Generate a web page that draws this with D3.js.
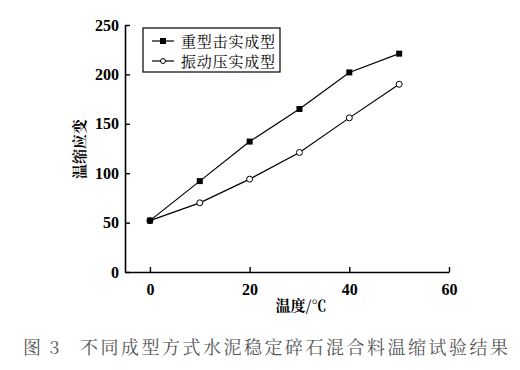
<!DOCTYPE html>
<html>
<head>
<meta charset="utf-8">
<script src="https://cdn.jsdelivr.net/npm/d3@7"></script>
<style>
body{margin:0;background:#fff;}
</style>
</head>
<body>
<svg id="chart" width="520" height="370"></svg>
<script>
// data
const temps = [0, 10, 20, 30, 40, 50];
const heavy = [52, 92, 132, 165, 202, 221];   // 重型击实成型
const vibro = [52, 70, 94, 121, 156, 190];    // 振动压实成型
const seriesNames = ["重型击实成型", "振动压实成型"];
const xTicks = [0, 20, 40, 60];
const yTicks = [0, 50, 100, 150, 200, 250];

const svg = d3.select('#chart');
const numFont = '"Liberation Serif","Times New Roman",serif';
const cjkFont = '"Noto Serif CJK SC","Noto Sans CJK SC",serif';

const plotLeft = 125, plotRight = 449, plotTop = 25, plotBottom = 272;

const x = d3.scaleLinear().domain([-5, 60]).range([plotLeft, plotRight]);
const y = d3.scaleLinear().domain([0, 250]).range([plotBottom, plotTop]);

// axes, ticks pointing inward
const xAxis = svg.append('g')
    .attr('transform', `translate(0,${plotBottom})`)
    .call(d3.axisBottom(x).tickValues(xTicks).tickSizeInner(-5).tickSizeOuter(0).tickPadding(12));
const yAxis = svg.append('g')
    .attr('transform', `translate(${plotLeft},0)`)
    .call(d3.axisLeft(y).tickValues(yTicks).tickSizeInner(-5).tickSizeOuter(0).tickPadding(6));

[xAxis, yAxis].forEach(g => {
  g.select('.domain').attr('stroke', '#000').attr('stroke-width', 1.6);
  g.selectAll('.tick line').attr('stroke', '#000').attr('stroke-width', 1.4);
  g.selectAll('.tick text')
    .attr('fill', '#000')
    .style('font-family', numFont)
    .style('font-weight', 'bold')
    .style('font-size', '16px');
});

const line = d3.line().x((d, i) => x(temps[i])).y(d => y(d));

function drawSeries(vals, filled) {
  svg.append('path')
    .datum(vals)
    .attr('d', line)
    .attr('fill', 'none')
    .attr('stroke', '#000')
    .attr('stroke-width', 1.2);
  if (filled) {
    svg.selectAll(null).data(vals).enter().append('rect')
      .attr('x', (d, i) => x(temps[i]) - 3)
      .attr('y', d => y(d) - 3)
      .attr('width', 6).attr('height', 6)
      .attr('fill', '#000');
  } else {
    svg.selectAll(null).data(vals).enter().append('circle')
      .attr('cx', (d, i) => x(temps[i]))
      .attr('cy', d => y(d))
      .attr('r', 3)
      .attr('fill', '#fff')
      .attr('stroke', '#000')
      .attr('stroke-width', 1);
  }
}
drawSeries(vibro, false);
drawSeries(heavy, true);

// legend
const lg = svg.append('g').attr('transform', 'translate(143,28)');
lg.append('rect').attr('width', 137).attr('height', 44)
  .attr('fill', '#fff').attr('stroke', '#000').attr('stroke-width', 1.2);
seriesNames.forEach((name, i) => {
  const yy = 13 + i * 20;
  lg.append('line').attr('x1', 9).attr('x2', 31).attr('y1', yy).attr('y2', yy)
    .attr('stroke', '#000').attr('stroke-width', 1.2);
  if (i === 0) {
    lg.append('rect').attr('x', 17).attr('y', yy - 3).attr('width', 6).attr('height', 6).attr('fill', '#000');
  } else {
    lg.append('circle').attr('cx', 20).attr('cy', yy).attr('r', 2.5)
      .attr('fill', '#fff').attr('stroke', '#000');
  }
  lg.append('text').attr('x', 38).attr('y', yy + 5.5)
    .attr('textLength', 94)
    .style('font-family', cjkFont).style('font-size', '15px')
    .text(name);
});

// axis titles
svg.append('text')
  .attr('transform', 'translate(85,149) rotate(-90)')
  .attr('text-anchor', 'middle')
  .style('font-family', cjkFont).style('font-size', '15px').style('font-weight', 'bold')
  .text('温缩应变');
svg.append('text')
  .attr('x', 301).attr('y', 311)
  .attr('text-anchor', 'middle')
  .style('font-family', cjkFont).style('font-size', '15px').style('font-weight', 'bold')
  .text('温度/℃');

// caption
svg.append('text')
  .attr('x', 23).attr('y', 354)
  .attr('fill', '#555')
  .style('font-family', cjkFont).style('font-size', '18px')
  .style('word-spacing', '4px')
  .text('图 3');
svg.append('text')
  .attr('x', 80).attr('y', 354)
  .attr('fill', '#555')
  .attr('textLength', 428)
  .style('font-family', cjkFont).style('font-size', '18px')
  .text('不同成型方式水泥稳定碎石混合料温缩试验结果');
</script>
</body>
</html>
